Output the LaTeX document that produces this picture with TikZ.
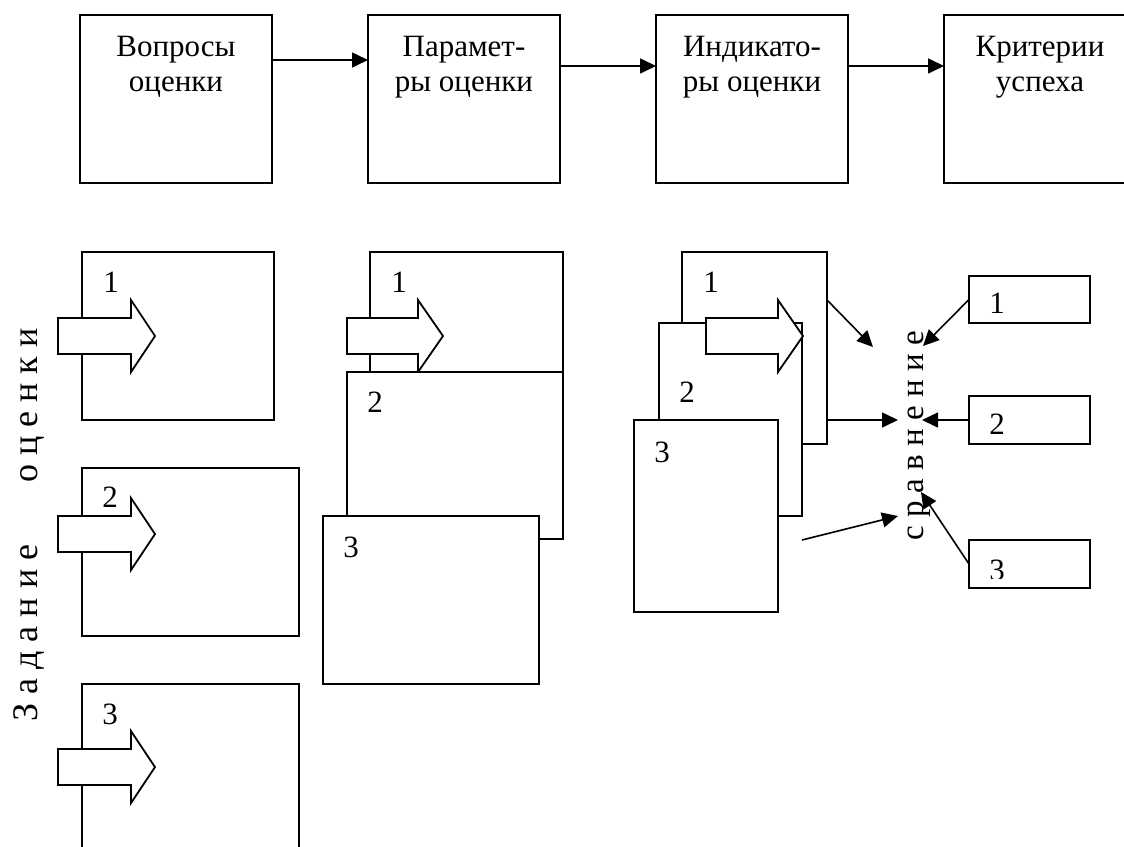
\documentclass[tikz,border=0pt]{standalone}
\usepackage{fontspec}
\setmainfont{Liberation Serif}
\usetikzlibrary{arrows.meta,calc}
\begin{document}
\begin{tikzpicture}[x=1pt,y=-1pt,
  box/.style={draw, line width=1.8pt, fill=white, inner sep=0pt, outer sep=0pt, anchor=north west},
  blk/.style={draw, line width=1.8pt, fill=white, line join=miter},
  conn/.style={line width=1.6pt, -{Triangle[length=16pt,width=15pt]}},
  num/.style={font=\fontsize{31}{36}\selectfont, inner sep=0pt},
  toptxt/.style={font=\fontsize{31}{35}\selectfont, align=center, anchor=north, inner sep=0pt},
]
\clip (0,0) rectangle (1124,846);
\fill[white] (0,0) rectangle (1124,846);

% ---------- top row ----------
\node[box, minimum width=192pt, minimum height=168pt] (t1) at (80,15) {};
\node[box, minimum width=192pt, minimum height=168pt] (t2) at (368,15) {};
\node[box, minimum width=192pt, minimum height=168pt] (t3) at (656,15) {};
\node[box, minimum width=192pt, minimum height=168pt] (t4) at (944,15) {};
\node[toptxt] (t1x) at (176,36) {Вопросы\\оценки};
\node[toptxt] (t2x) at (464,36) {Парамет-\\ры оценки};
\node[toptxt] (t3x) at (752,36) {Индикато-\\ры оценки};
\node[toptxt] (t4x) at (1040,36) {Критерии\\успеха};
\draw[conn] ([yshift=39pt]t1.east) -- ([yshift=39pt]t2.west);
\draw[conn] ([yshift=33pt]t2.east) -- ([yshift=33pt]t3.west);
\draw[conn] ([yshift=33pt]t3.east) -- ([yshift=33pt]t4.west);

% ---------- column A ----------
\node[box, minimum width=192pt, minimum height=168pt] (a1) at (82,252) {};
\node[box, minimum width=217pt, minimum height=168pt] (a2) at (82,468) {};
\node[box, minimum width=217pt, minimum height=200pt] (a3) at (82,684) {};
\node[num] (a1n) at (111,282) {1};
\node[num] (a2n) at (110,497) {2};
\node[num] (a3n) at (110,714) {3};
\coordinate (pa1) at (58,336);
\coordinate (pa2) at (58,534);
\coordinate (pa3) at (58,767);
\foreach \p in {pa1,pa2,pa3}{
  \draw[blk] (\p) ++(0,-18) -- ++(73,0) -- ++(0,-18) -- ++(24,36) -- ++(-24,36) -- ++(0,-18) -- ++(-73,0) -- cycle;
}

% ---------- column B ----------
\node[box, minimum width=193pt, minimum height=168pt] (b1) at (370,252) {};
\node[num] (b1n) at (399,282) {1};
\coordinate (pb) at (347,336);
\draw[blk] (pb) ++(0,-18) -- ++(71,0) -- ++(0,-18) -- ++(25,36) -- ++(-25,36) -- ++(0,-18) -- ++(-71,0) -- cycle;
\node[box, minimum width=216pt, minimum height=167pt] (b2) at (347,372) {};
\node[num] (b2n) at (375,402) {2};
\node[box, minimum width=216pt, minimum height=168pt] (b3) at (323,516) {};
\node[num] (b3n) at (351,547) {3};

% ---------- column C ----------
\node[box, minimum width=145pt, minimum height=192pt] (c1) at (682,252) {};
\node[num] (c1n) at (711,282) {1};
\node[box, minimum width=143pt, minimum height=193pt] (c2) at (659,323) {};
\node[num] (c2n) at (687,392) {2};
\coordinate (pc) at (706,336);
\draw[blk] (pc) ++(0,-18) -- ++(72,0) -- ++(0,-18) -- ++(25,36) -- ++(-25,36) -- ++(0,-18) -- ++(-72,0) -- cycle;
\node[box, minimum width=144pt, minimum height=192pt] (c3) at (634,420) {};
\node[num] (c3n) at (662,452) {3};

% ---------- column D ----------
\node[box, minimum width=121pt, minimum height=47pt] (d1) at (969,276) {};
\node[num] (d1n) at (997,303) {1};
\node[box, minimum width=121pt, minimum height=48pt] (d2) at (969,396) {};
\node[num] (d2n) at (997,424) {2};
\node[box, minimum width=121pt, minimum height=48pt] (d3) at (969,540) {};
\begin{scope}
  \clip (969,540) rectangle (1090,578);
  \node[num] (d3n) at (997,570) {3};
\end{scope}

% ---------- vertical texts ----------
\node[rotate=90, anchor=base, inner sep=0pt, font=\fontsize{36}{40}\selectfont] (zad) at (37,525)
  {З а д а н и е\hspace{62pt}о ц е н к и};
\node[rotate=90, anchor=base, inner sep=0pt, font=\fontsize{33}{38}\selectfont] (srav) at (923,436)
  {с р а в н е н и е};

% ---------- comparison arrows ----------
\coordinate (s1) at (873,347);
\coordinate (s2) at (898,420);
\coordinate (s3o) at (802,540);
\coordinate (s3) at (898,516);
\coordinate (r1) at (923,346);
\coordinate (r2) at (922,420);
\coordinate (r3) at (921,492);
\draw[conn] ([yshift=48pt]c1.east) -- (s1);
\draw[conn] ([yshift=-72pt]c1.east) -- (s2);
\draw[conn] (s3o) -- (s3);
\draw[conn] (d1.west) -- (r1);
\draw[conn] (d2.west) -- (r2);
\draw[conn] (d3.west) -- (r3);
\end{tikzpicture}
\end{document}
